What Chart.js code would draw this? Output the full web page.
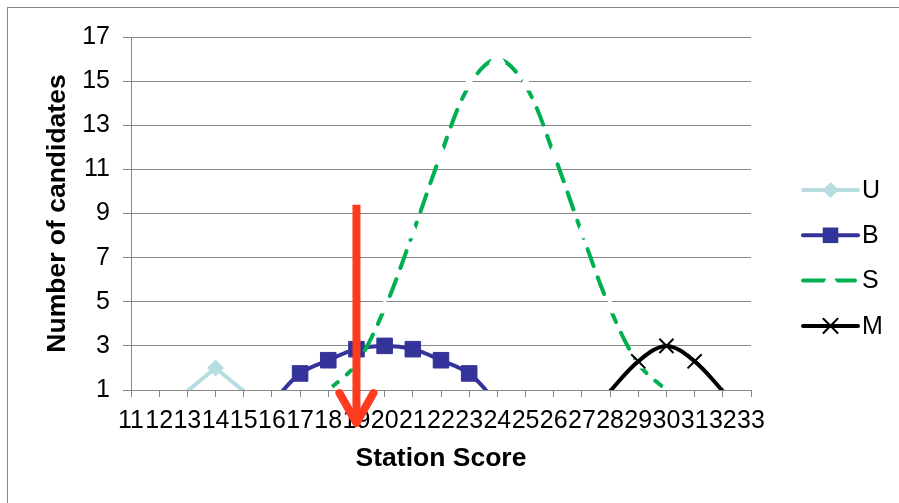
<!DOCTYPE html>
<html>
<head>
<meta charset="utf-8">
<script src="https://cdn.jsdelivr.net/npm/chart.js@4.4.0/dist/chart.umd.min.js"></script>
<style>
  html, body { margin: 0; padding: 0; background: #fff; overflow: hidden; }
  #wrap { position: relative; width: 899px; height: 503px; }
  #frame { position: absolute; left: 7px; top: 7px; width: 1000px; height: 600px; border: 1px solid #868686; }
  #chart { position: absolute; left: 0; top: 0; }
</style>
</head>
<body>
<div id="wrap">
  <div id="frame"></div>
  <canvas id="chart" width="899" height="503"></canvas>
</div>
<script>
/* -------------------------------------------------
   Data
   ------------------------------------------------- */
const SCORES = ['11','12','13','14','15','16','17','18','19','20','21','22',
                '23','24','25','26','27','28','29','30','31','32','33'];
const U_VALUES = [null, null, 0.95, 2, 0.95, null, null, null, null, null, null, null,
                  null, null, null, null, null, null, null, null, null, null, null];
const B_VALUES = [null, null, null, null, null, 0.4, 1.75, 2.35, 2.85, 3.0, 2.85, 2.35,
                  1.75, 0.4, null, null, null, null, null, null, null, null, null];
const S_VALUES = [null, null, null, null, null, null, 0, 1.0, 2.2, 4.7, 8.1, 11.7,
                  14.8, 16, 14.8, 11.7, 8.1, 4.7, 2.2, 1.0, 0, null, null];
const M_VALUES = [null, null, null, null, null, null, null, null, null, null, null, null,
                  null, null, null, null, null, 0.95, 2.3, 3.0, 2.3, 0.95, null];
const Y_TICKS = [1, 3, 5, 7, 9, 11, 13, 15, 17];

// red arrow annotation (category + value range)
const ARROW_AT = '19';
const ARROW_FROM = 9.4;
const ARROW_TO = -0.5;

/* -------------------------------------------------
   Styles
   ------------------------------------------------- */
const FONT = "'Liberation Sans', Arial, sans-serif";
const GRID = '#888888';
const Y_MIN = Y_TICKS[0];
const Y_MAX = Y_TICKS[Y_TICKS.length - 1];

// Excel hides markers for points below the axis minimum
const radiusAbove = r => c => (c.raw == null || c.raw < Y_MIN) ? 0 : r;

const SERIES = [
  { label: 'U', data: U_VALUES, color: '#B7DDE3', style: 'rectRot', radius: 8, fill: '#B7DDE3', tension: 0, order: 3 },
  { label: 'B', data: B_VALUES, color: '#333399', style: 'rect', radius: 11, fill: '#333399', tension: 0.35, order: 2 },
  { label: 'S', data: S_VALUES, color: '#00B050', style: 'triangle', radius: 9, fill: '#FFFFFF', tension: 0.35, order: 1, dash: [18, 12] },
  { label: 'M', data: M_VALUES, color: '#000000', style: 'crossRot', radius: 10, fill: '#000000', tension: 0.35, order: 0 },
];

/* -------------------------------------------------
   Plugins: red arrow + legend
   ------------------------------------------------- */
const arrowPlugin = {
  id: 'redArrow',
  afterDraw(chart) {
    const { ctx, scales: { x, y } } = chart;
    const px = x.getPixelForValue(SCORES.indexOf(ARROW_AT));
    const top = y.getPixelForValue(ARROW_FROM);
    const tip = y.getPixelForValue(ARROW_TO);
    ctx.save();
    ctx.strokeStyle = '#FF3B1F';
    ctx.lineWidth = 8;
    ctx.lineCap = 'butt';
    ctx.beginPath();
    ctx.moveTo(px, top);
    ctx.lineTo(px, tip - 4);
    ctx.stroke();
    ctx.lineCap = 'round';
    ctx.lineJoin = 'round';
    ctx.beginPath();
    ctx.moveTo(px - 17, tip - 30);
    ctx.lineTo(px, tip);
    ctx.lineTo(px + 17, tip - 30);
    ctx.stroke();
    ctx.restore();
  }
};

function drawMarker(ctx, s, x, y) {
  const r = s.radius;
  ctx.save();
  ctx.fillStyle = s.fill;
  ctx.strokeStyle = s.style === 'triangle' ? '#FFFFFF' : s.color;
  ctx.lineWidth = s.style === 'crossRot' ? 2 : 1;
  ctx.beginPath();
  if (s.style === 'rect') {
    const h = r * Math.SQRT1_2;
    ctx.rect(x - h, y - h, 2 * h, 2 * h);
    ctx.fill();
  } else if (s.style === 'rectRot') {
    ctx.moveTo(x, y - r); ctx.lineTo(x + r, y); ctx.lineTo(x, y + r); ctx.lineTo(x - r, y);
    ctx.closePath(); ctx.fill();
  } else if (s.style === 'triangle') {
    ctx.moveTo(x, y - r);
    ctx.lineTo(x + r * 0.866, y + r / 2);
    ctx.lineTo(x - r * 0.866, y + r / 2);
    ctx.closePath(); ctx.fill();
  } else {
    const h = r * Math.SQRT1_2;
    ctx.moveTo(x - h, y - h); ctx.lineTo(x + h, y + h);
    ctx.moveTo(x + h, y - h); ctx.lineTo(x - h, y + h);
    ctx.stroke();
  }
  ctx.restore();
}

const legendPlugin = {
  id: 'sideLegend',
  afterDraw(chart) {
    const { ctx } = chart;
    const x0 = 803, x1 = 858, top = 190, step = 45.3;
    ctx.save();
    SERIES.forEach((s, i) => {
      const y = top + i * step;
      ctx.strokeStyle = s.color;
      ctx.lineWidth = 4;
      ctx.lineCap = 'round';
      ctx.setLineDash(s.dash ? [22, 8] : []);
      ctx.beginPath();
      ctx.moveTo(x0, y);
      ctx.lineTo(x1, y);
      ctx.stroke();
      ctx.setLineDash([]);
      drawMarker(ctx, s, (x0 + x1) / 2, y);
      ctx.fillStyle = '#000';
      ctx.font = '25px ' + FONT;
      ctx.textBaseline = 'middle';
      ctx.textAlign = 'left';
      ctx.fillText(s.label, x1 + 4, y + 1);
    });
    ctx.restore();
  }
};

/* -------------------------------------------------
   Chart
   ------------------------------------------------- */
new Chart(document.getElementById('chart'), {
  type: 'line',
  data: {
    labels: SCORES,
    datasets: SERIES.map(s => ({
      label: s.label,
      data: s.data,
      order: s.order,
      borderColor: s.color,
      borderWidth: 4,
      borderDash: s.dash || [],
      borderCapStyle: 'round',
      borderJoinStyle: 'round',
      tension: s.tension,
      clip: 0,
      pointStyle: s.style,
      pointRadius: radiusAbove(s.radius),
      pointBackgroundColor: s.fill,
      pointBorderColor: s.style === 'triangle' ? '#FFFFFF' : s.color,
      pointBorderWidth: s.style === 'crossRot' ? 2 : 1,
      spanGaps: false,
    })),
  },
  options: {
    responsive: false,
    animation: false,
    devicePixelRatio: 1,
    layout: { padding: { left: 0, top: 37, right: 148, bottom: 0 } },
    plugins: {
      legend: { display: false },
      tooltip: { enabled: false },
    },
    scales: {
      x: {
        offset: false,
        grid: { drawOnChartArea: false, drawTicks: true, tickLength: 7, color: GRID },
        border: { display: true, color: GRID, width: 1 },
        ticks: { autoSkip: false, maxRotation: 0, minRotation: 0, padding: 9, color: '#000',
                 font: { family: FONT, size: 25 } },
        title: { display: true, text: 'Station Score', color: '#000',
                 font: { family: FONT, size: 26.5, weight: 'bold' }, padding: { top: 0, bottom: 28 } },
        afterFit: s => { s.height = 113; },
      },
      y: {
        min: Y_MIN, max: Y_MAX,
        afterBuildTicks: s => { s.ticks = Y_TICKS.map(v => ({ value: v })); },
        grid: { color: GRID, lineWidth: 1, tickLength: 8 },
        border: { display: true, color: GRID, width: 1 },
        ticks: { padding: 13, color: '#000', font: { family: FONT, size: 25 } },
        title: { display: true, text: 'Number of candidates', color: '#000',
                 font: { family: FONT, size: 26.5, weight: 'bold' }, padding: { top: 42, bottom: 0 } },
        afterFit: s => { s.width = 131; },
      },
    },
  },
  plugins: [arrowPlugin, legendPlugin],
});
</script>
</body>
</html>
